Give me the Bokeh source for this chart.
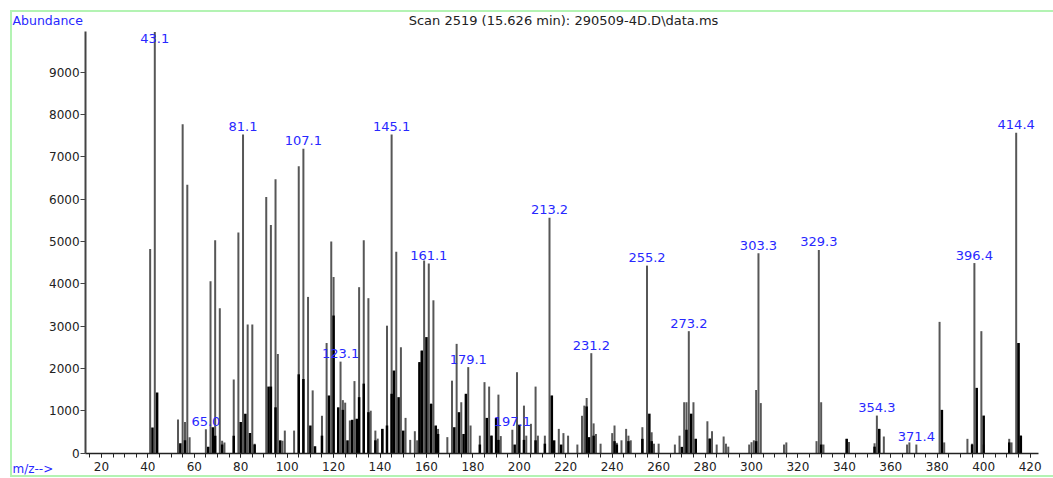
import numpy as np
from bokeh.plotting import figure
from bokeh.models import (ColumnDataSource, Label, SingleIntervalTicker, Range1d,
                          LinearAxis)
from bokeh.embed import file_html
from bokeh.resources import INLINE
from bokeh.core.properties import value

title_text = "Scan 2519 (15.626 min): 290509-4D.D\\data.ms"
y_title = "Abundance"
x_title = "m/z-->"

# main (profile) lines: m/z and abundance
mz = [41, 43, 53, 55, 56, 57, 58, 65, 67, 69, 71, 72, 73, 77, 79, 81, 83, 85, 86,
      91, 93, 95, 96, 98, 99, 103, 105, 107, 109, 111, 115, 117, 119, 120, 123,
      124, 125, 127, 128, 129, 131, 133, 135, 136, 138, 139, 141, 143, 145, 147,
      149, 151, 153, 155, 156, 157, 158, 159, 161, 162, 163, 164, 165, 169, 171,
      173, 175, 177, 178, 179, 183, 185, 187, 188, 190, 191, 192, 197, 199, 202,
      203, 205, 207, 208, 211, 213, 214, 217, 219, 221, 225, 227, 228, 229, 231,
      232, 233, 235, 240, 241, 242, 244, 246, 247, 248, 253, 255, 257, 258, 260,
      267, 269, 271, 272, 273, 275, 276, 281, 282, 283, 285, 288, 289, 290, 299,
      300, 301, 302, 303, 304, 314, 315, 328, 329, 330, 331, 341, 342, 353, 354,
      355, 357, 367, 368, 371, 381, 383, 393, 395, 396, 399, 400, 411, 412, 414,
      415, 416]
abundance = [4820, 9950, 790, 7770, 730, 6340, 370, 560, 4060, 5030, 3420, 290, 250,
             1740, 5210, 7530, 3040, 3040, 220, 6050, 5390, 6470, 2340, 290, 530,
             530, 6780, 7190, 3690, 1480, 880, 2600, 5000, 4160, 2160, 1250, 1190,
             770, 770, 1700, 3920, 5030, 3660, 1000, 530, 340, 570, 3010, 7530, 4760,
             2500, 830, 310, 515, 300, 2120, 2420, 4550, 4480, 1170, 3610, 630, 570,
             375, 1710, 2580, 1200, 1375, 2030, 650, 410, 1675, 1570, 410, 830, 1380,
             400, 550, 1910, 1120, 410, 690, 1570, 410, 410, 5560, 1350, 570, 470,
             410, 200, 880, 1120, 1300, 2360, 700, 450, 220, 470, 650, 240, 300, 570,
             410, 300, 610, 4430, 490, 220, 220, 200, 410, 1200, 1200, 2880, 1200,
             335, 750, 340, 515, 200, 390, 220, 150, 200, 255, 300, 1490, 4720, 1180,
             200, 250, 280, 4800, 1200, 200, 335, 260, 230, 885, 570, 390, 200, 250,
             200, 3100, 250, 335, 220, 4490, 2880, 200, 335, 250, 7570, 2600, 410]

# dense dark cores at the foot of the peaks
core_mz = [42, 44, 54, 56, 66, 68, 69, 72, 77, 80, 82, 84, 86, 92, 93, 95, 97, 105,
           107, 110, 112, 115, 118, 120, 122, 124, 126, 128, 130, 131, 133, 135, 138,
           141, 143, 145, 146, 148, 150, 157, 158, 160, 162, 164, 165, 172, 174, 176,
           177, 183, 186, 188, 190, 191, 198, 200, 202, 207, 211, 214, 215, 218, 229,
           230, 232, 241, 242, 247, 253, 256, 257, 270, 272, 274, 276, 282, 302, 330,
           341, 353, 355, 382, 395, 397, 400, 411, 415, 416]
core_abundance = [600, 1430, 230, 300, 150, 610, 410, 200, 410, 730, 930, 470, 200,
                  1570, 1570, 1080, 300, 1860, 1750, 650, 160, 410, 1360, 3250, 1080,
                  1020, 300, 785, 810, 1320, 1640, 965, 300, 570, 650, 1400, 1950,
                  1320, 530, 2150, 2420, 2740, 1160, 650, 450, 610, 965, 450, 1400,
                  200, 830, 410, 830, 310, 200, 670, 310, 300, 220, 1360, 300, 200,
                  1100, 375, 410, 280, 200, 280, 335, 930, 280, 145, 550, 930, 335,
                  340, 280, 200, 335, 150, 570, 1020, 200, 1540, 885, 250, 2600, 410]

# annotated peaks
label_mz = [43, 65, 81, 107, 123, 145, 161, 178, 197, 213, 231, 255, 273, 303, 329,
            354, 371, 396, 414]
label_text = ["43.1", "65.0", "81.1", "107.1", "123.1", "145.1", "161.1", "179.1",
              "197.1", "213.2", "231.2", "255.2", "273.2", "303.3", "329.3", "354.3",
              "371.4", "396.4", "414.4"]

# axis extents
x_axis_start, x_axis_end = 13.2, 423.8
y_axis_top = 9976

# ---- layout: the frame fills the canvas, axes sit at fixed positions ----
W, H = 1053, 478
PX_PER_MZ = 2.3218
MZ0_PX = 54.46          # pixel column of m/z = 0
ZERO_PX = 452.5         # pixel row of abundance = 0
PX_PER_AB = 0.0423


def col_to_mz(px):
    return (px - MZ0_PX) / PX_PER_MZ


def row_to_ab(py):
    return (ZERO_PX - py) / PX_PER_AB


height_of = dict(zip(mz, abundance))
label_y = [min(height_of[m], 9600) for m in label_mz]

p = figure(width=W, height=H, output_backend="svg", toolbar_location=None,
           x_range=Range1d(col_to_mz(0), col_to_mz(W)),
           y_range=Range1d(row_to_ab(H), row_to_ab(0)),
           x_axis_location=None, y_axis_location=None,
           min_border_left=0, min_border_right=0, min_border_top=0,
           min_border_bottom=0)
p.title.visible = False
p.styles = {"box-shadow": ("inset 10px 10px 0 0 #ffffff, inset 0 -1px 0 0 #ffffff, "
                           "inset 12px 12px 0 0 #b3f3b3, inset 0 -3px 0 0 #b3f3b3")}
p.border_fill_alpha = 0
p.background_fill_alpha = 0
p.outline_line_color = None
p.xgrid.visible = False
p.ygrid.visible = False

src = ColumnDataSource(dict(x=mz, y=abundance, y0=[0] * len(mz)))
p.segment(x0="x", y0="y0", x1="x", y1="y", source=src, line_color="#575757", line_width=2)
csrc = ColumnDataSource(dict(x=core_mz, y=core_abundance, y0=[0] * len(core_mz)))
p.segment(x0="x", y0="y0", x1="x", y1="y", source=csrc, line_color="#000000", line_width=2.5)

lsrc = ColumnDataSource(dict(x=label_mz, y=label_y, text=label_text))
p.text(x="x", y="y", text="text", source=lsrc, text_font=value("DejaVu Sans"),
       text_font_size=value("13px"), text_color="#2828ff", text_align="center",
       text_baseline="middle", y_offset=-8)

xa = LinearAxis(fixed_location=0, bounds=(x_axis_start, x_axis_end))
xa.ticker = SingleIntervalTicker(interval=20, num_minor_ticks=4)
xa.major_tick_in = 0
xa.major_tick_out = 4
xa.minor_tick_in = 0
xa.minor_tick_out = 4
xa.axis_line_width = 1.5
xa.axis_line_color = "#222222"
xa.major_tick_line_color = "#222222"
xa.minor_tick_line_color = "#222222"
xa.major_label_text_font = "DejaVu Sans"
xa.major_label_text_font_size = "12px"
xa.major_label_text_color = "#222222"
xa.major_label_standoff = 5
p.add_layout(xa, "below")

ya = LinearAxis(fixed_location=x_axis_start, bounds=(0, y_axis_top))
ya.ticker = SingleIntervalTicker(interval=1000, num_minor_ticks=0)
ya.major_tick_in = 0
ya.major_tick_out = 5
ya.minor_tick_line_color = None
ya.axis_line_width = 2
ya.axis_line_color = "#444444"
ya.major_tick_line_color = "#444444"
ya.major_label_text_font = "DejaVu Sans"
ya.major_label_text_font_size = "12px"
ya.major_label_text_color = "#222222"
ya.major_label_standoff = 1
p.add_layout(ya, "left")

p.add_layout(Label(x=col_to_mz(563), y=row_to_ab(20), text=title_text,
                   text_font="DejaVu Sans", text_font_size="13px",
                   text_color="#222222", text_align="center", text_baseline="middle"))
p.add_layout(Label(x=col_to_mz(12), y=row_to_ab(20), text=y_title,
                   text_font="DejaVu Sans", text_font_size="12.5px",
                   text_color="#2828ff", text_baseline="middle"))
p.add_layout(Label(x=col_to_mz(12), y=row_to_ab(468), text=x_title,
                   text_font="DejaVu Sans", text_font_size="12px",
                   text_color="#2828ff", text_baseline="middle"))

open("out.html", "w").write(file_html(p, INLINE))
